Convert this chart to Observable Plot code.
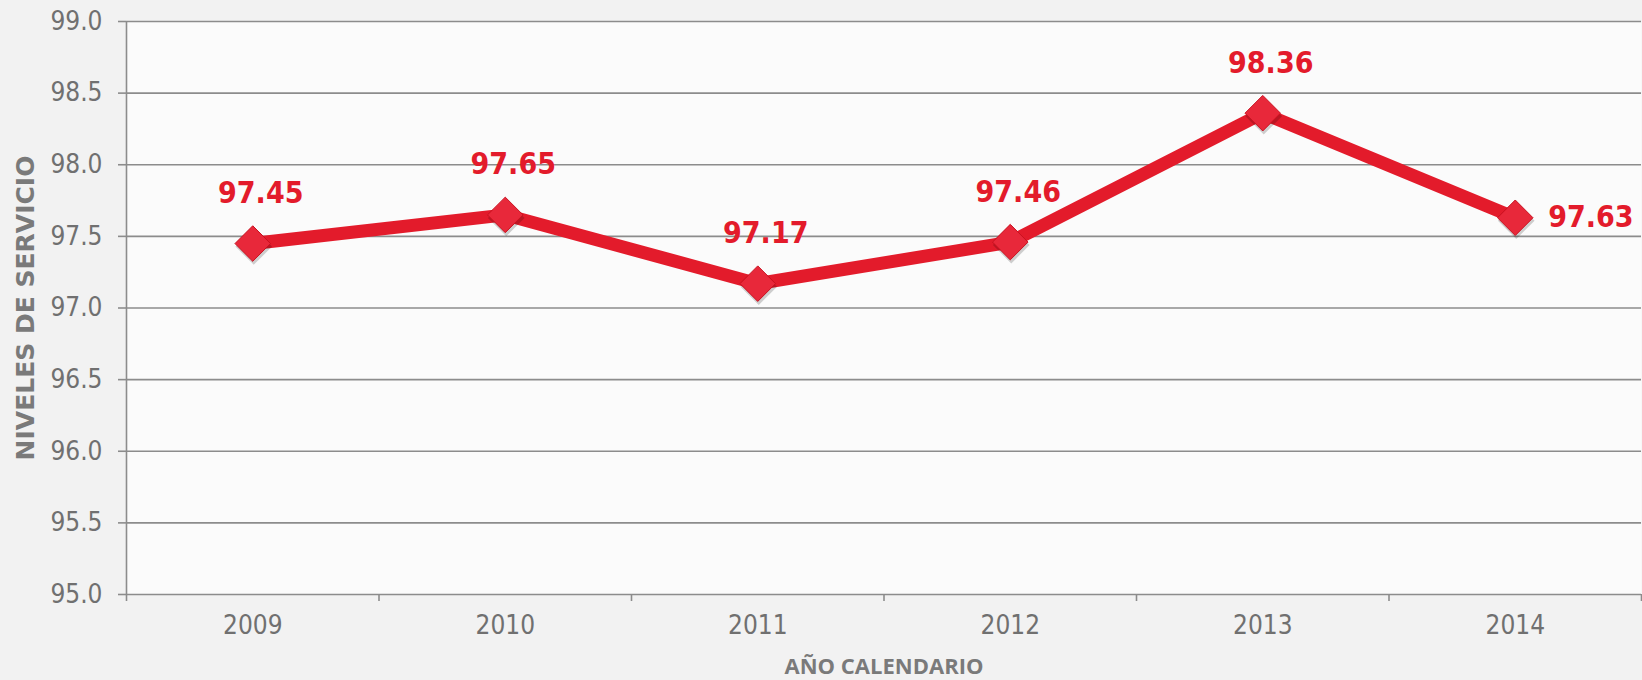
<!DOCTYPE html>
<html>
<head>
<meta charset="utf-8">
<script src="https://cdn.jsdelivr.net/npm/d3@7"></script>
<script src="https://cdn.jsdelivr.net/npm/@observablehq/plot@0.6"></script>
<style>
  html, body { margin: 0; padding: 0; background: #f2f2f2; }
  #chart svg { display: block; }
</style>
</head>
<body>
<div id="chart"></div>
<script>
const years = [2009, 2010, 2011, 2012, 2013, 2014];
const values = [97.45, 97.65, 97.17, 97.46, 98.36, 97.63];
const yTicks = [95.0, 95.5, 96.0, 96.5, 97.0, 97.5, 98.0, 98.5, 99.0];
const yTitle = "NIVELES DE SERVICIO";
const xTitle = "AÑO CALENDARIO";

const data = years.map((year, i) => ({year, value: values[i]}));
const bounds = [years[0] - 0.5, ...years.map(y => y + 0.5)];
const numFont = "'DejaVu Sans Condensed', sans-serif";
const grey = "#8c8c8c";
const red = "#e31b2b";

const chart = Plot.plot({
  width: 1642,
  height: 680,
  marginLeft: 126,
  marginRight: 1,
  marginTop: 21,
  marginBottom: 86,
  style: {background: "transparent", fontFamily: numFont},
  x: {domain: [bounds[0], bounds[bounds.length - 1]], axis: null},
  y: {domain: [95, 99], axis: null},
  marks: [
    Plot.frame({fill: "#fbfbfb", stroke: null}),
    Plot.ruleY(yTicks, {stroke: grey, strokeWidth: 1.6}),
    Plot.ruleX([bounds[0]], {stroke: grey, strokeWidth: 1.6}),
    Plot.axisY({ticks: yTicks, tickSize: 8, tickPadding: 16, tickFormat: d3.format(".1f"),
      fontSize: 26, color: "#707070", stroke: grey, strokeWidth: 1.6, label: null}),
    Plot.axisX({ticks: bounds, tickSize: 7, tickFormat: () => "", stroke: grey, strokeWidth: 1.6, label: null}),
    Plot.axisX({ticks: years, tickSize: 0, tickPadding: 21, tickFormat: d => String(d),
      fontSize: 26, color: "#707070", label: null}),
    Plot.line(data, {x: "year", y: "value", stroke: red, strokeWidth: 13, strokeLinejoin: "round"}),
    Plot.dot(data, {x: "year", y: "value", symbol: "diamond2", r: 16.5, fill: "rgba(0,0,0,0.18)", dx: 1, dy: 3}),
    Plot.dot(data, {x: "year", y: "value", symbol: "diamond2", r: 16, fill: "#e8283a", stroke: "#c8101f", strokeWidth: 1}),
    Plot.text(data.slice(0, -1), {x: "year", y: "value", text: d => d.value.toFixed(2), dx: 8, dy: -50,
      fontSize: 30, fontWeight: "bold", fill: red}),
    Plot.text(data.slice(-1), {x: "year", y: "value", text: d => d.value.toFixed(2), dx: 33, dy: 0,
      textAnchor: "start", fontSize: 30, fontWeight: "bold", fill: red}),
    Plot.text([yTitle], {frameAnchor: "left", textAnchor: "middle", rotate: -90, dx: -101, fontSize: 25,
      fontWeight: "bold", fill: "#7a7a7a", fontFamily: "'DejaVu Sans', sans-serif"}),
    Plot.text([xTitle], {frameAnchor: "bottom", dy: 79, fontSize: 22, fontWeight: "bold", fill: "#7a7a7a",
      fontFamily: "'Open Sans', sans-serif"})
  ]
});
document.getElementById("chart").append(chart);
</script>
</body>
</html>
